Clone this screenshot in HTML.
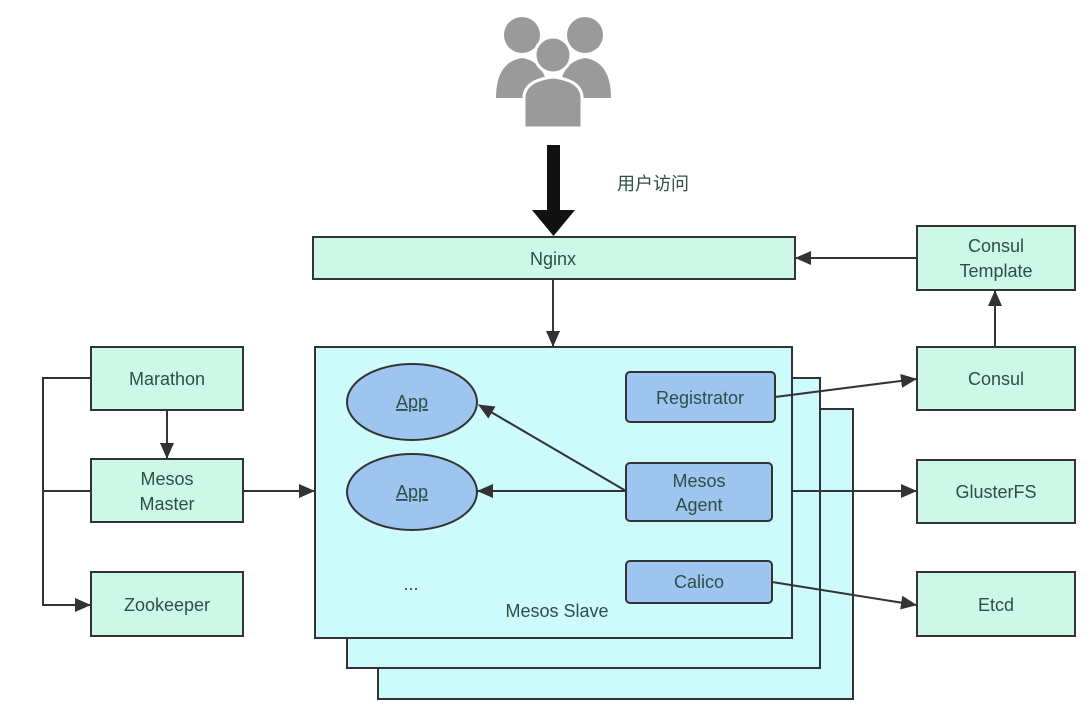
<!DOCTYPE html>
<html><head><meta charset="utf-8"><style>
html,body{margin:0;padding:0;background:#fff;}
svg{display:block;}
text{font-family:"Liberation Sans","Noto Sans CJK SC",sans-serif;font-size:18px;fill:#2d4f47;}
</style></head><body>
<svg width="1090" height="718" viewBox="0 0 1090 718" xmlns="http://www.w3.org/2000/svg">
<defs>
<marker id="a" markerWidth="16" markerHeight="14" refX="15" refY="7" orient="auto" markerUnits="userSpaceOnUse">
<path d="M0,0 L16,7 L0,14 Z" fill="#333"/></marker>
</defs>
<!-- people icon -->
<g fill="#9a9a9a">
<circle cx="522" cy="35" r="18"/><circle cx="585" cy="35" r="18"/>
<path d="M496,98 Q496,62 522,58 Q548,62 548,98 Z"/>
<path d="M559,98 Q559,62 585,58 Q611,62 611,98 Z"/>
<circle cx="553" cy="55" r="18" stroke="#fff" stroke-width="3"/>
<path d="M524,128 L524,96 Q526,80 553,77 Q580,80 582,96 L582,128 Z" stroke="#fff" stroke-width="3"/>
</g>
<!-- big arrow -->
<rect x="547" y="145" width="13" height="68" fill="#111"/>
<path d="M532,210 L575,210 L553.5,236 Z" fill="#111"/>
<text x="617" y="190" font-size="16">用户访问</text>
<!-- Nginx -->
<rect x="313" y="237" width="482" height="42" fill="#cdf7e6" stroke="#333" stroke-width="2"/>
<text x="553" y="265" text-anchor="middle">Nginx</text>
<!-- slaves -->
<rect x="378" y="409" width="475" height="290" fill="#cdfafa" stroke="#333" stroke-width="2"/>
<rect x="347" y="378" width="473" height="290" fill="#cdfafa" stroke="#333" stroke-width="2"/>
<rect x="315" y="347" width="477" height="291" fill="#cdfafa" stroke="#333" stroke-width="2"/>
<text x="557" y="617" text-anchor="middle">Mesos Slave</text>
<text x="411" y="590" text-anchor="middle" font-size="12" fill="#888">...</text>
<ellipse cx="412" cy="402" rx="65" ry="38" fill="#9dc5ef" stroke="#333" stroke-width="2"/>
<ellipse cx="412" cy="492" rx="65" ry="38" fill="#9dc5ef" stroke="#333" stroke-width="2"/>
<text x="412" y="408" text-anchor="middle" text-decoration="underline">App</text>
<text x="412" y="498" text-anchor="middle" text-decoration="underline">App</text>
<rect x="626" y="372" width="149" height="50" rx="4" fill="#9dc5ef" stroke="#333" stroke-width="2"/>
<text x="700" y="404" text-anchor="middle">Registrator</text>
<rect x="626" y="463" width="146" height="58" rx="4" fill="#9dc5ef" stroke="#333" stroke-width="2"/>
<text x="699" y="487" text-anchor="middle">Mesos</text>
<text x="699" y="511" text-anchor="middle">Agent</text>
<rect x="626" y="561" width="146" height="42" rx="4" fill="#9dc5ef" stroke="#333" stroke-width="2"/>
<text x="699" y="588" text-anchor="middle">Calico</text>
<!-- boxes -->
<g fill="#cdf7e6" stroke="#333" stroke-width="2">
<rect x="91" y="347" width="152" height="63"/>
<rect x="91" y="459" width="152" height="63"/>
<rect x="91" y="572" width="152" height="64"/>
<rect x="917" y="226" width="158" height="64"/>
<rect x="917" y="347" width="158" height="63"/>
<rect x="917" y="460" width="158" height="63"/>
<rect x="917" y="572" width="158" height="64"/>
</g>
<text x="167" y="385" text-anchor="middle">Marathon</text>
<text x="167" y="485" text-anchor="middle">Mesos</text>
<text x="167" y="510" text-anchor="middle">Master</text>
<text x="167" y="611" text-anchor="middle">Zookeeper</text>
<text x="996" y="252" text-anchor="middle">Consul</text>
<text x="996" y="277" text-anchor="middle">Template</text>
<text x="996" y="385" text-anchor="middle">Consul</text>
<text x="996" y="498" text-anchor="middle">GlusterFS</text>
<text x="996" y="611" text-anchor="middle">Etcd</text>
<!-- connectors -->
<g stroke="#333" stroke-width="2" fill="none">
<path d="M91,378 H43 V605 H90" marker-end="url(#a)"/>
<path d="M43,491 H91"/>
<path d="M167,410 V458" marker-end="url(#a)"/>
<path d="M243,491 H314" marker-end="url(#a)"/>
<path d="M553,279 V346" marker-end="url(#a)"/>
<path d="M917,258 H796" marker-end="url(#a)"/>
<path d="M995,347 V291" marker-end="url(#a)"/>
<path d="M775,397 L916,379" marker-end="url(#a)"/>
<path d="M792,491 H916" marker-end="url(#a)"/>
<path d="M772,582 L916,605" marker-end="url(#a)"/>
<path d="M626,491 H478" marker-end="url(#a)"/>
<path d="M626,491 L479,405" marker-end="url(#a)"/>
</g>
</svg>
</body></html>
